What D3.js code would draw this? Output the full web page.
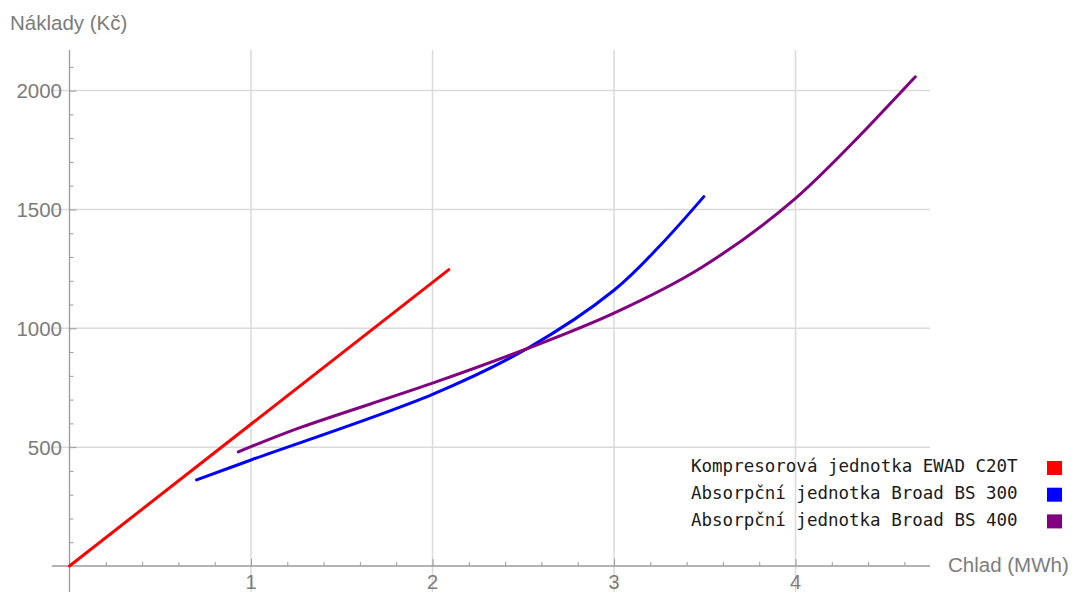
<!DOCTYPE html>
<html><head><meta charset="utf-8">
<script src="https://cdn.jsdelivr.net/npm/d3@7/dist/d3.min.js"></script>
<style>body{margin:0;background:#fff}svg{display:block}</style>
</head><body>
<svg id="c" width="1076" height="592"></svg>
<script>
const seriesNames = ["Kompresorová jednotka EWAD C20T","Absorpční jednotka Broad BS 300","Absorpční jednotka Broad BS 400"];
const seriesColors = ["#ff0000","#0000ff","#800080"];
const redX = [0, 2.09];
const redY = [0, 1247];
const blueX = [0.70, 1.0, 2.0, 2.52, 3.0, 3.25, 3.495];
const blueY = [362, 446, 722, 914, 1160, 1345, 1554];
const purpleX = [0.93, 1.0, 1.27, 2.0, 2.52, 3.0, 3.48, 4.0, 4.66];
const purpleY = [480, 502, 582, 769, 914, 1064, 1255, 1547, 2058];
const xMajor = [1, 2, 3, 4];
const yMajor = [500, 1000, 1500, 2000];
const xTitle = "Chlad (MWh)";
const yTitle = "Náklady (Kč)";

const svg = d3.select("#c");
const x = d3.scaleLinear().domain([0, 4]).range([69.5, 795.5]);
const y = d3.scaleLinear().domain([0, 2000]).range([566, 90.6]);
const xMin = x.invert(52), xMax = x.invert(930);
const yMin = y.invert(592), yMax = y.invert(50);

const font = "'Liberation Sans', Arial, sans-serif";
// grid
svg.append("g").selectAll("line").data(xMajor).join("line")
  .attr("x1", d => x(d)).attr("x2", d => x(d)).attr("y1", y(yMax)).attr("y2", y(yMin))
  .attr("stroke", "#dadada").attr("stroke-width", 1.5);
svg.append("g").selectAll("line").data(yMajor).join("line")
  .attr("y1", d => y(d)).attr("y2", d => y(d)).attr("x1", x(xMin)).attr("x2", x(xMax))
  .attr("stroke", "#dadada").attr("stroke-width", 1.5);

// axes
const axisColor = "#9a9a9a";
const xAxis = d3.axisTop(x).tickValues(d3.range(0.2, xMax, 0.2).map(v => +v.toFixed(1))).tickSize(4).tickFormat("");
const gx = svg.append("g").attr("transform", `translate(0,${y(0)})`).call(xAxis);
gx.select(".domain").remove();
gx.selectAll(".tick line").attr("stroke", axisColor).attr("stroke-width", 1)
  .attr("y2", d => Math.abs(d - Math.round(d)) < 1e-6 ? -7 : -4);
svg.append("line").attr("x1", x(xMin)).attr("x2", x(xMax)).attr("y1", y(0)).attr("y2", y(0))
  .attr("stroke", axisColor).attr("stroke-width", 1.3);

const yAxis = d3.axisRight(y).tickValues(d3.range(100, yMax, 100)).tickSize(4).tickFormat("");
const gy = svg.append("g").attr("transform", `translate(${x(0)},0)`).call(yAxis);
gy.select(".domain").remove();
gy.selectAll(".tick line").attr("stroke", axisColor).attr("stroke-width", 1)
  .attr("x2", d => d % 500 === 0 ? 7 : 4);
svg.append("line").attr("x1", x(0)).attr("x2", x(0)).attr("y1", y(yMin)).attr("y2", y(yMax))
  .attr("stroke", axisColor).attr("stroke-width", 1.3);

// tick labels
const labColor = "#7c7c7c";
svg.append("g").selectAll("text").data(xMajor).join("text")
  .attr("x", d => x(d)).attr("y", 589).attr("text-anchor", "middle")
  .attr("font-family", font).attr("font-size", 20).attr("fill", labColor).text(d => d);
svg.append("g").selectAll("text").data(yMajor).join("text")
  .attr("x", 62).attr("y", d => y(d) + 7.5).attr("text-anchor", "end")
  .attr("font-family", font).attr("font-size", 20.5).attr("fill", labColor).text(d => d);

svg.append("text").attr("x", 10).attr("y", 29.5).attr("font-family", font).attr("font-size", 20.5)
  .attr("fill", labColor).text(yTitle);
svg.append("text").attr("x", 948).attr("y", 571.5).attr("font-family", font).attr("font-size", 20.5)
  .attr("fill", labColor).text(xTitle);

// series
const line = d3.line().x(d => x(d[0])).y(d => y(d[1])).curve(d3.curveCatmullRom.alpha(0.5));
const series = [d3.zip(redX, redY), d3.zip(blueX, blueY), d3.zip(purpleX, purpleY)];
svg.append("g").selectAll("path").data(series).join("path")
  .attr("d", line).attr("fill", "none").attr("stroke", (d, i) => seriesColors[i])
  .attr("stroke-width", 3).attr("stroke-linecap", "round");

// legend
const lg = svg.append("g");
seriesNames.forEach((n, i) => {
  lg.append("text").attr("x", 691).attr("y", 472 + i * 27)
    .attr("font-family", "'DejaVu Sans Mono', monospace").attr("font-size", 17.5)
    .attr("fill", "#1a1a1a").text(n);
  lg.append("rect").attr("x", 1047).attr("y", 461 + i * 26.7).attr("width", 15).attr("height", 14)
    .attr("fill", seriesColors[i]);
});
</script>
</body></html>
